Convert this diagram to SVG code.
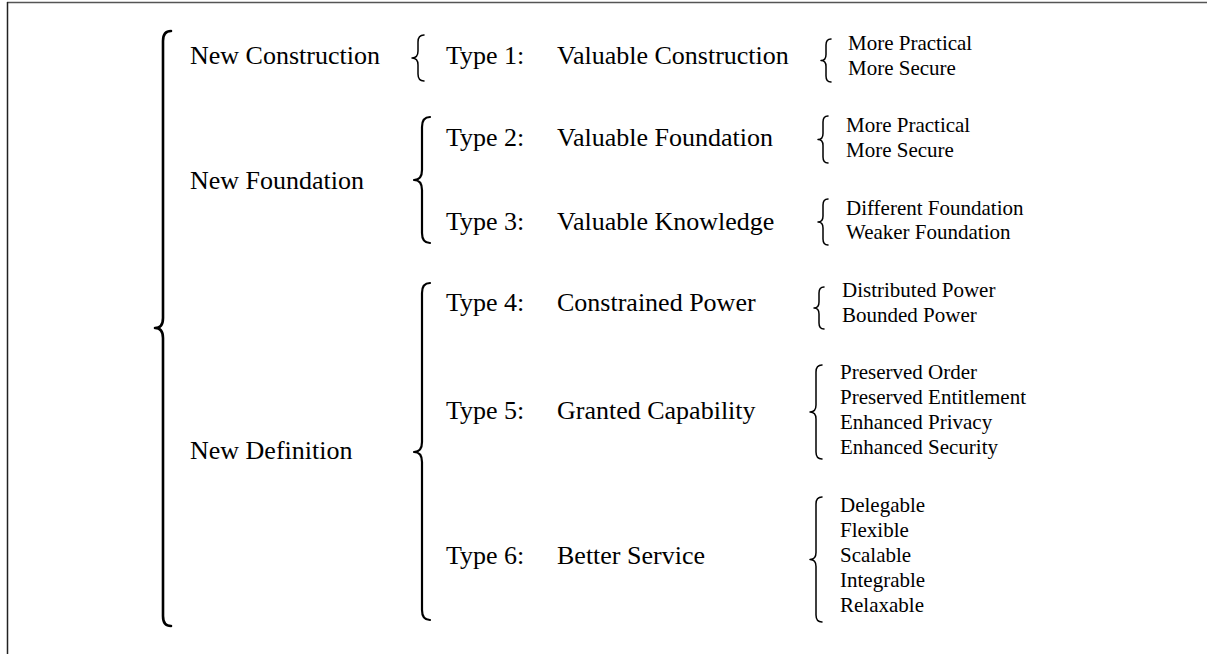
<svg xmlns="http://www.w3.org/2000/svg" width="1207" height="654" viewBox="0 0 1207 654">
<style>
.t{font-family:"Liberation Serif","Times New Roman",serif;font-size:26px;fill:#000}
.s{font-family:"Liberation Serif","Times New Roman",serif;font-size:21px;fill:#000}
.b{fill:none;stroke:#000;stroke-linecap:round;stroke-linejoin:round}
.b1{stroke-width:2.6}
.b2{stroke-width:2.2}
.b3{stroke-width:1.5}
</style>
<rect width="1207" height="654" fill="#fff"/>
<g id="frame">
<line x1="7" y1="2.5" x2="1207" y2="2.5" stroke="#555" stroke-width="1.5"/>
<line x1="7.5" y1="2" x2="7.5" y2="654" stroke="#222" stroke-width="1.5"/>
</g>
<g id="connectors">
<path class="b b1" d="M171,31 Q163,31 163,41 L163,318 Q163,328 155,328 Q163,328 163,338 L163,616 Q163,626 171,626"/>
<path class="b b3" d="M424,35 Q418,35 418,42 L418,51 Q418,58 412,58 Q418,58 418,65 L418,74 Q418,81 424,81"/>
<path class="b b2" d="M430,117 Q422,117 422,127 L422,170 Q422,180 414,180 Q422,180 422,190 L422,233 Q422,243 430,243"/>
<path class="b b2" d="M430,283 Q422,283 422,293 L422,442 Q422,452 414,452 Q422,452 422,462 L422,610 Q422,620 430,620"/>
<path class="b b3" d="M831,39 Q826,39 826,45 L826,54.5 Q826,60.5 821,60.5 Q826,60.5 826,66.5 L826,76 Q826,82 831,82"/>
<path class="b b3" d="M828,116 Q823,116 823,122 L823,133.5 Q823,139.5 818,139.5 Q823,139.5 823,145.5 L823,157 Q823,163 828,163"/>
<path class="b b3" d="M828,199 Q823,199 823,205 L823,216 Q823,222 818,222 Q823,222 823,228 L823,239 Q823,245 828,245"/>
<path class="b b3" d="M824,287 Q819,287 819,293 L819,302 Q819,308 814,308 Q819,308 819,314 L819,323 Q819,329 824,329"/>
<path class="b b3" d="M822,365 Q816,365 816,372 L816,405 Q816,412 810,412 Q816,412 816,419 L816,452 Q816,459 822,459"/>
<path class="b b3" d="M822,497 Q816,497 816,504 L816,552.5 Q816,559.5 810,559.5 Q816,559.5 816,566.5 L816,615 Q816,622 822,622"/>
</g>
<g id="new-construction"><text class="t" x="190" y="64">New Construction</text></g>
<g id="new-foundation"><text class="t" x="190" y="189">New Foundation</text></g>
<g id="new-definition"><text class="t" x="190" y="459">New Definition</text></g>
<g id="type1"><text class="t" x="446" y="64">Type 1:</text><text class="t" x="557" y="64">Valuable Construction</text></g>
<g id="type2"><text class="t" x="446" y="146">Type 2:</text><text class="t" x="557" y="146">Valuable Foundation</text></g>
<g id="type3"><text class="t" x="446" y="230">Type 3:</text><text class="t" x="557" y="230">Valuable Knowledge</text></g>
<g id="type4"><text class="t" x="446" y="311">Type 4:</text><text class="t" x="557" y="311">Constrained Power</text></g>
<g id="type5"><text class="t" x="446" y="419">Type 5:</text><text class="t" x="557" y="419">Granted Capability</text></g>
<g id="type6"><text class="t" x="446" y="564">Type 6:</text><text class="t" x="557" y="564">Better Service</text></g>
<g id="items1"><text class="s" x="848" y="50">More Practical</text><text class="s" x="848" y="75">More Secure</text></g>
<g id="items2"><text class="s" x="846" y="132">More Practical</text><text class="s" x="846" y="157">More Secure</text></g>
<g id="items3"><text class="s" x="846" y="215">Different Foundation</text><text class="s" x="846" y="239">Weaker Foundation</text></g>
<g id="items4"><text class="s" x="842" y="297">Distributed Power</text><text class="s" x="842" y="322">Bounded Power</text></g>
<g id="items5"><text class="s" x="840" y="379">Preserved Order</text><text class="s" x="840" y="404">Preserved Entitlement</text><text class="s" x="840" y="429">Enhanced Privacy</text><text class="s" x="840" y="454">Enhanced Security</text></g>
<g id="items6"><text class="s" x="840" y="512">Delegable</text><text class="s" x="840" y="537">Flexible</text><text class="s" x="840" y="562">Scalable</text><text class="s" x="840" y="587">Integrable</text><text class="s" x="840" y="612">Relaxable</text></g>
</svg>
